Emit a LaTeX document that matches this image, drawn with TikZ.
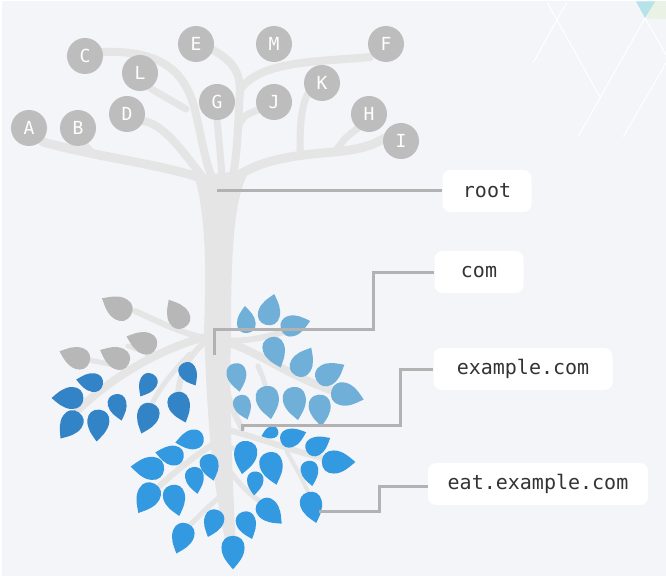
\documentclass[tikz,border=0pt]{standalone}
\usepackage{fontspec}
\newfontfamily\monofont{DejaVu Sans Mono}
\definecolor{bg}{HTML}{F3F5F9}
\definecolor{treecol}{HTML}{E5E5E5}
\definecolor{circ}{HTML}{BDBDBD}
\definecolor{gleaf}{HTML}{B7B7B7}
\definecolor{dblue}{HTML}{3383C7}
\definecolor{lblue}{HTML}{6FAFD8}
\definecolor{bblue}{HTML}{3399E0}
\definecolor{conncol}{HTML}{B2B2B2}
\definecolor{txt}{HTML}{333333}
\definecolor{cyantri}{HTML}{B6E3EA}
\definecolor{lgreen}{HTML}{EAF2E6}
\newcommand\myleaf[5]{\fill[#4,shift={(#1,#2)},rotate=#3,scale=#5*1.1] (15,0) .. controls (9,5) and (4,10) .. (-4,10) .. controls (-10,10) and (-14,6) .. (-14,0) .. controls (-14,-6) and (-10,-10) .. (-4,-10) .. controls (4,-10) and (9,-5) .. (15,0) -- cycle;}
\tikzset{
  tree/.style={draw=treecol, line cap=round, line join=round},
  cnode/.style={circle, fill=circ, minimum size=36pt, inner sep=0pt, text=white, font=\monofont\fontsize{18}{20}\selectfont},
  lbl/.style={fill=white, rounded corners=8pt, minimum height=42pt, text=txt, font=\monofont\fontsize{20}{24}\selectfont, inner xsep=0pt},
  conn/.style={draw=conncol, line width=3pt},
  deco/.style={draw=white, line width=1pt},
}
\begin{document}
\begin{tikzpicture}[x=1pt,y=-1pt]
\useasboundingbox (0,0) rectangle (666,577);
\fill[white] (0,0) rectangle (666,577);
\fill[bg] (1.5,1.5) rectangle (666,575.5);
% decoration top right
\fill[lgreen] (647,1.5) rectangle (666,19);
\fill[cyantri] (636,1.5) -- (655,1.5) -- (645,18) -- cycle;
\draw[deco] (547,2) -- (600,97);
\draw[deco] (567,2) -- (533,63);
\draw[deco] (645,18) -- (578,137);
\draw[deco] (645,18) -- (666,55);
\draw[deco] (666,63) -- (623,137);
% trunk
\fill[treecol] (194,176) .. controls (207,215) and (206,280) .. (204,330)
  .. controls (207,400) and (209,470) .. (227,548) -- (236,548)
  .. controls (232,470) and (229,400) .. (231,330)
  .. controls (231,250) and (234,195) .. (250,170) -- cycle;
% upper limbs
\draw[tree, line width=9pt] (43,142) .. controls (100,158) and (170,165) .. (212,182);
\draw[tree, line width=7pt] (84,143) .. controls (88,150) and (92,153) .. (102,157);
\draw[tree, line width=8pt] (143,121) .. controls (165,124) and (185,155) .. (205,180);
\draw[tree, line width=8pt] (102,52) .. controls (160,50) and (185,70) .. (195,110) .. controls (202,140) and (205,160) .. (212,178);
\draw[tree, line width=7pt] (150,88) .. controls (165,97) .. (186,109);
\draw[tree, line width=7pt] (217,120) .. controls (219,140) and (221,160) .. (222,178);
\draw[tree, line width=8pt] (213,50) .. controls (235,62) and (240,75) .. (240,90) .. controls (238,120) and (238,150) .. (233,175);
\draw[tree, line width=8pt] (370,57) .. controls (320,62) and (260,60) .. (240,90);
\draw[tree, line width=7pt] (258,110) .. controls (245,115) .. (238,126);
\draw[tree, line width=9pt] (232,180) .. controls (260,158) and (300,155) .. (333,152) .. controls (355,150) and (370,147) .. (385,138);
\draw[tree, line width=7pt] (310,90) .. controls (300,105) and (300,130) .. (300,155);
\draw[tree, line width=7pt] (358,128) .. controls (345,138) .. (335,152);
% lower branches
\draw[tree, line width=6pt] (205,338) .. controls (180,333) and (155,320) .. (135,311);
\draw[tree, line width=8pt] (210,336) .. controls (170,345) and (120,370) .. (78,410);
\draw[tree, line width=5pt] (125,369) .. controls (110,364) .. (88,360);
\draw[tree, line width=5pt] (150,355) .. controls (140,350) .. (128,346);
\draw[tree, line width=6pt] (205,342) .. controls (190,355) and (180,370) .. (178,395);
\draw[tree, line width=5pt] (190,354) .. controls (172,372) and (158,390) .. (150,408);
\draw[tree, line width=6pt] (226,340) .. controls (250,343) and (280,333) .. (300,327);
\draw[tree, line width=8pt] (226,342) .. controls (260,352) and (290,378) .. (345,395);
\draw[tree, line width=5pt] (258,366) .. controls (264,380) .. (268,398);
\draw[tree, line width=6pt] (228,345) .. controls (222,370) and (225,400) .. (242,428);
\draw[tree, line width=6pt] (228,430) .. controls (260,438) and (295,452) .. (330,460);
\draw[tree, line width=4pt] (287,452) .. controls (300,475) and (308,490) .. (312,502);
\draw[tree, line width=5pt] (226,466) .. controls (240,485) and (250,495) .. (265,505);
\draw[tree, line width=6pt] (220,440) .. controls (195,455) and (170,475) .. (145,500);
\draw[tree, line width=5pt] (222,495) .. controls (210,505) and (200,515) .. (185,530);
\draw[tree, line width=4pt] (224,442) -- (243,455);
% circles
\node[cnode] (A) at (29,128) {A};
\node[cnode] (B) at (78,128) {B};
\node[cnode] (C) at (85,56) {C};
\node[cnode] (L) at (140,73) {L};
\node[cnode] (D) at (127,114) {D};
\node[cnode] (E) at (196,44) {E};
\node[cnode] (G) at (217,102) {G};
\node[cnode] (M) at (274,44) {M};
\node[cnode] (J) at (274,102) {J};
\node[cnode] (K) at (322,83) {K};
\node[cnode] (F) at (386,44) {F};
\node[cnode] (H) at (369,114) {H};
\node[cnode] (I) at (401,141) {I};
% leaves gray
\myleaf{117}{307}{150}{gleaf}{1.05}
\myleaf{177}{314}{120}{gleaf}{1.0}
\myleaf{142}{342}{160}{gleaf}{1.0}
\myleaf{115}{357}{155}{gleaf}{1.0}
\myleaf{75}{357}{160}{gleaf}{1.0}
% dark blue
\myleaf{90}{382}{170}{dblue}{0.85}
\myleaf{68}{398}{180}{dblue}{1.0}
\myleaf{70}{425}{-125}{dblue}{1.0}
\myleaf{98}{425}{-95}{dblue}{1.0}
\myleaf{118}{407}{-75}{dblue}{0.85}
\myleaf{147}{385}{-120}{dblue}{0.8}
\myleaf{147}{418}{-110}{dblue}{1.0}
\myleaf{189}{374}{-60}{dblue}{0.8}
\myleaf{180}{407}{-70}{dblue}{1.0}
% light blue
\myleaf{246}{320}{95}{lblue}{0.85}
\myleaf{270}{310}{75}{lblue}{1.0}
\myleaf{295}{325}{15}{lblue}{0.95}
\myleaf{275}{352}{-70}{lblue}{1.0}
\myleaf{303}{362}{60}{lblue}{1.0}
\myleaf{330}{373}{30}{lblue}{1.0}
\myleaf{237}{377}{-80}{lblue}{0.9}
\myleaf{347}{395}{-15}{lblue}{1.05}
\myleaf{243}{407}{-70}{lblue}{0.8}
\myleaf{268}{402}{-80}{lblue}{1.05}
\myleaf{295}{403}{-80}{lblue}{1.05}
\myleaf{320}{410}{-85}{lblue}{1.0}
% bright blue
\myleaf{270}{433}{-160}{bblue}{0.55}
\myleaf{293}{437}{20}{bblue}{0.85}
\myleaf{318}{445}{30}{bblue}{0.85}
\myleaf{338}{462}{0}{bblue}{1.05}
\myleaf{245}{457}{-100}{bblue}{1.05}
\myleaf{272}{468}{-75}{bblue}{1.05}
\myleaf{255}{483}{-95}{bblue}{0.75}
\myleaf{310}{473}{-80}{bblue}{0.8}
\myleaf{312}{507}{-75}{bblue}{1.0}
\myleaf{270}{512}{-45}{bblue}{1.0}
\myleaf{247}{525}{-70}{bblue}{0.9}
\myleaf{233}{552}{-90}{bblue}{1.05}
\myleaf{213}{523}{-110}{bblue}{0.9}
\myleaf{182}{538}{-110}{bblue}{1.0}
\myleaf{175}{500}{-75}{bblue}{1.0}
\myleaf{147}{498}{-120}{bblue}{1.05}
\myleaf{148}{468}{175}{bblue}{1.05}
\myleaf{170}{455}{170}{bblue}{0.9}
\myleaf{190}{440}{-170}{bblue}{0.9}
\myleaf{195}{480}{-80}{bblue}{0.85}
\myleaf{210}{467}{-75}{bblue}{0.85}
% labels
\node[lbl, minimum width=89pt] (rootlbl) at (487,191) {root};
\node[lbl, minimum width=89pt] (comlbl) at (479,272) {com};
\node[lbl, minimum width=179pt] (exlbl) at (523,369) {example.com};
\node[lbl, minimum width=220pt] (eatlbl) at (538,484) {eat.example.com};
% connectors
\coordinate (rootpt) at (217,191);
\coordinate (compt) at (214,355);
\coordinate (c1) at (373,329);
\coordinate (expt) at (242,431);
\coordinate (x1) at (400,425);
\coordinate (eatpt) at (319,511);
\coordinate (e1) at (379,486);
\draw[conn] (rootpt) -- (rootlbl.west);
\draw[conn] (compt) |- (c1) |- (comlbl.west);
\draw[conn] (expt) |- (x1) |- (exlbl.west);
\draw[conn] (eatpt) -| (e1) -- (e1 -| eatlbl.west);
\end{tikzpicture}
\end{document}
